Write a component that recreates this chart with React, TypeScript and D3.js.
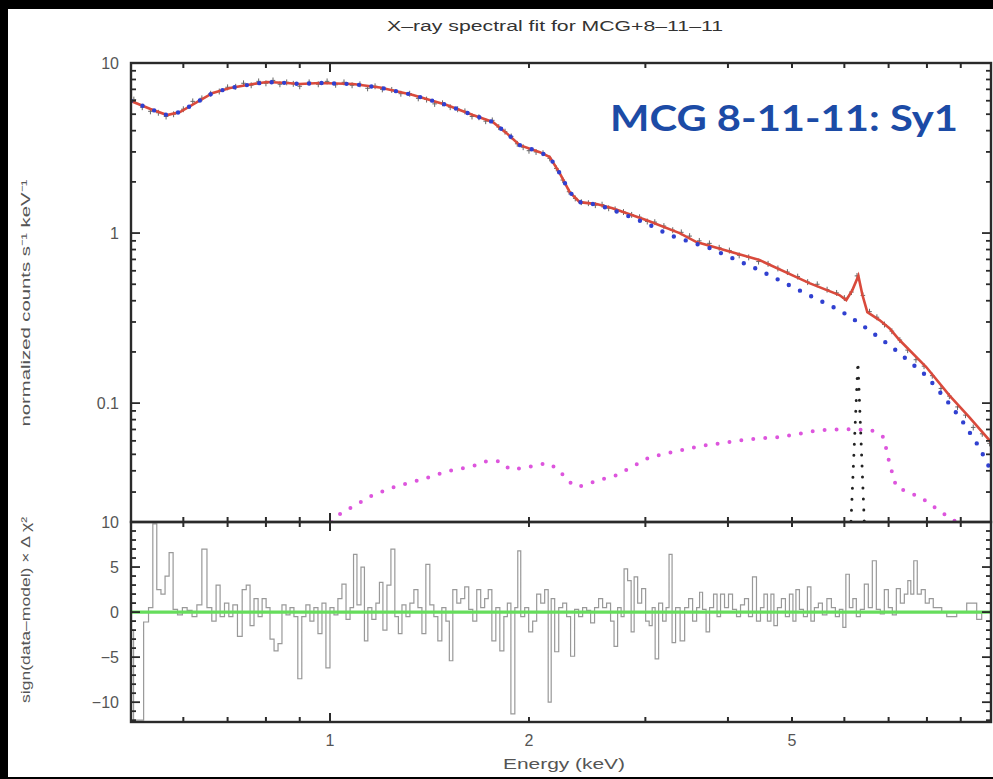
import React from 'react';
import * as d3 from 'd3';

const W = 993;
const H = 779;

const chartTitle = 'X–ray spectral fit for MCG+8–11–11';
const annotation = 'MCG 8-11-11: Sy1';
const xLabel = 'Energy (keV)';
const yLabelTop = 'normalized counts s⁻¹ keV⁻¹';
const yLabelBottom = 'sign(data–model) × Δ χ²';

const xTickLabels = [1, 2, 5];
const yTickLabelsTop = [0.1, 1, 10];
const yTickLabelsBottom = [-10, -5, 0, 5, 10];

// total model (red)
const modelE = [0.5, 0.535, 0.567, 0.593, 0.63, 0.665, 0.706, 0.765, 0.803, 0.861, 0.9, 0.966, 1.083, 1.19, 1.335, 1.502, 1.645, 1.763, 1.85, 1.937, 2.077, 2.15, 2.226, 2.305, 2.387, 2.531, 2.676, 3.014, 3.38, 3.585, 4.464, 5.312, 5.897, 6.04, 6.17, 6.3, 6.39, 6.5, 6.78, 7.02, 7.27, 7.98, 8.65, 9.27, 10.0];
const modelV = [5.98, 5.36, 4.94, 5.15, 5.9, 6.67, 7.13, 7.52, 7.73, 7.63, 7.52, 7.63, 7.52, 7.17, 6.49, 5.66, 4.94, 4.5, 3.87, 3.29, 2.99, 2.8, 2.25, 1.74, 1.52, 1.48, 1.4, 1.19, 1.0, 0.885, 0.694, 0.508, 0.432, 0.404, 0.462, 0.56, 0.432, 0.343, 0.308, 0.276, 0.235, 0.163, 0.111, 0.0828, 0.059];

// continuum (blue dotted)
const contE = [0.5, 0.535, 0.567, 0.593, 0.63, 0.665, 0.706, 0.765, 0.803, 0.861, 0.9, 0.966, 1.083, 1.19, 1.335, 1.502, 1.645, 1.763, 1.85, 1.937, 2.077, 2.15, 2.226, 2.305, 2.387, 2.531, 2.676, 3.014, 3.26, 3.75, 4.46, 5.19, 5.9, 6.32, 7.09, 7.6, 7.98, 8.55, 9.02, 9.6, 10.0];
const contV = [5.98, 5.36, 4.94, 5.15, 5.9, 6.67, 7.13, 7.52, 7.73, 7.63, 7.52, 7.63, 7.52, 7.17, 6.49, 5.66, 4.94, 4.5, 3.87, 3.29, 2.99, 2.8, 2.25, 1.74, 1.52, 1.47, 1.37, 1.14, 0.973, 0.817, 0.606, 0.45, 0.352, 0.296, 0.213, 0.17, 0.145, 0.105, 0.08, 0.055, 0.04];

// reflection component (magenta dotted)
const reflE = [0.98, 1.028, 1.072, 1.161, 1.262, 1.382, 1.507, 1.645, 1.727, 1.807, 1.871, 1.957, 2.134, 2.226, 2.28, 2.37, 2.585, 2.715, 3.045, 3.623, 4.312, 4.786, 5.5, 6.04, 6.6, 6.88, 7.02, 7.19, 7.86, 8.42, 8.87, 9.5, 10.0];
const reflV = [0.0175, 0.0219, 0.0241, 0.0288, 0.0325, 0.0357, 0.0398, 0.0426, 0.0456, 0.0456, 0.0409, 0.0415, 0.0444, 0.0403, 0.0352, 0.0321, 0.0357, 0.0377, 0.0481, 0.0558, 0.0614, 0.0631, 0.0693, 0.0703, 0.0693, 0.0631, 0.0444, 0.0321, 0.0276, 0.0228, 0.02, 0.0155, 0.013];

// narrow Fe K line (black dotted)
const lineE = [6.12, 6.29, 6.45];
const lineV = [0.015, 0.175, 0.015];

// data points (grey crosses)
const dataE = [0.505, 0.52, 0.535, 0.55, 0.565, 0.58, 0.6, 0.62, 0.64, 0.66, 0.68, 0.7, 0.72, 0.74, 0.76, 0.78, 0.8, 0.82, 0.84, 0.86, 0.88, 0.9, 0.93, 0.96, 0.99, 1.02, 1.05, 1.08, 1.11, 1.14, 1.17, 1.2, 1.24, 1.28, 1.32, 1.36, 1.4, 1.44, 1.48, 1.52, 1.56, 1.6, 1.64, 1.68, 1.72, 1.76, 1.8, 1.84, 1.88, 1.92, 1.96, 2.0, 2.05, 2.1, 2.15, 2.2, 2.25, 2.3, 2.35, 2.4, 2.46, 2.52, 2.58, 2.64, 2.7, 2.78, 2.86, 2.94, 3.02, 3.1, 3.2, 3.3, 3.4, 3.5, 3.62, 3.75, 3.88, 4.02, 4.16, 4.3, 4.45, 4.6, 4.76, 4.92, 5.1, 5.28, 5.46, 5.65, 5.84, 6.0, 6.15, 6.27, 6.4, 6.55, 6.72, 6.9, 7.08, 7.28, 7.48, 7.7, 7.92, 8.15, 8.4, 8.65, 8.9, 9.15, 9.4, 9.7, 9.95];
const dataV = [6.1, 5.5, 5.2, 5.1, 4.85, 5.0, 5.35, 5.95, 6.2, 6.6, 6.8, 7.2, 7.25, 7.6, 7.4, 7.8, 7.6, 7.9, 7.5, 7.7, 7.55, 7.3, 7.7, 7.5, 7.8, 7.45, 7.7, 7.4, 7.5, 7.1, 7.3, 7.0, 6.95, 6.6, 6.6, 6.2, 6.1, 5.75, 5.8, 5.5, 5.35, 5.2, 4.85, 4.8, 4.55, 4.6, 4.2, 3.95, 3.7, 3.35, 3.2, 3.05, 3.0, 2.95, 2.75, 2.4, 2.05, 1.75, 1.6, 1.52, 1.5, 1.46, 1.47, 1.4, 1.38, 1.33, 1.28, 1.24, 1.17, 1.16, 1.1, 1.04, 1.01, 0.96, 0.9, 0.87, 0.82, 0.79, 0.74, 0.72, 0.68, 0.66, 0.62, 0.59, 0.555, 0.515, 0.5, 0.465, 0.445, 0.415, 0.45, 0.56, 0.43, 0.345, 0.32, 0.29, 0.265, 0.235, 0.205, 0.18, 0.165, 0.145, 0.122, 0.11, 0.095, 0.085, 0.072, 0.066, 0.058];

// residuals sign(data-model)*dchi^2
const residE = [0.5, 0.509, 0.518, 0.527, 0.536, 0.543, 0.551, 0.559, 0.567, 0.575, 0.583, 0.593, 0.603, 0.613, 0.624, 0.634, 0.646, 0.657, 0.668, 0.677, 0.687, 0.698, 0.708, 0.718, 0.731, 0.742, 0.752, 0.762, 0.773, 0.784, 0.795, 0.806, 0.817, 0.829, 0.84, 0.852, 0.864, 0.876, 0.888, 0.9, 0.913, 0.926, 0.939, 0.952, 0.966, 0.979, 0.993, 1.007, 1.021, 1.035, 1.05, 1.065, 1.08, 1.091, 1.106, 1.122, 1.133, 1.149, 1.165, 1.182, 1.194, 1.211, 1.228, 1.245, 1.262, 1.276, 1.294, 1.312, 1.33, 1.349, 1.368, 1.387, 1.406, 1.426, 1.446, 1.466, 1.487, 1.508, 1.523, 1.545, 1.566, 1.588, 1.61, 1.633, 1.656, 1.679, 1.702, 1.726, 1.745, 1.77, 1.794, 1.82, 1.845, 1.865, 1.891, 1.917, 1.93, 1.957, 1.984, 2.012, 2.04, 2.069, 2.098, 2.127, 2.15, 2.172, 2.203, 2.234, 2.265, 2.296, 2.328, 2.361, 2.394, 2.428, 2.462, 2.496, 2.531, 2.567, 2.603, 2.639, 2.676, 2.704, 2.743, 2.771, 2.8, 2.84, 2.87, 2.9, 2.941, 2.982, 3.024, 3.056, 3.088, 3.12, 3.164, 3.208, 3.241, 3.275, 3.31, 3.356, 3.416, 3.464, 3.512, 3.562, 3.611, 3.636, 3.687, 3.726, 3.778, 3.831, 3.871, 3.925, 3.98, 4.036, 4.093, 4.15, 4.208, 4.267, 4.327, 4.387, 4.449, 4.511, 4.558, 4.622, 4.67, 4.719, 4.786, 4.852, 4.921, 4.99, 5.042, 5.095, 5.167, 5.239, 5.312, 5.368, 5.443, 5.519, 5.597, 5.695, 5.775, 5.856, 5.938, 6.0, 6.063, 6.148, 6.213, 6.299, 6.388, 6.477, 6.568, 6.66, 6.754, 6.848, 6.945, 7.042, 7.141, 7.241, 7.343, 7.446, 7.523, 7.602, 7.681, 7.789, 7.898, 8.009, 8.121, 8.235, 8.35, 8.497, 8.646, 8.798, 8.952, 9.109, 9.269, 9.432, 9.597, 9.766, 9.937];
const residV = [-2, -12, -12, -1.1, 0.5, 9.8, 2.5, 2.0, 4, 6.6, 0.3, -0.3, 0.5, 0.2, -0.5, 0.8, 7.0, 0.5, -1.0, 3.0, -0.5, 1.0, -0.5, 0.8, -2.7, 2.5, 3.0, -1.5, 1.5, -0.5, 1.5, 0.5, -3.0, -4.3, -3.5, 0.8, -0.3, 0.5, -0.5, -7.4, -0.5, 0.8, -1.0, 0.5, -2.4, 1.0, -6.2, 0.5, -0.3, 1.5, 3.1, -0.8, 0.5, 6.4, 0.8, 5.0, -3.2, 0.5, -0.8, 1.0, 3.3, -2.0, 3.0, 7.0, -0.5, -2.4, 0.8, -0.5, 1.0, 2.5, 0.5, -2.4, 5.3, 0.8, -0.5, -3.2, 0.5, -1.0, -5.4, 2.5, 1.0, 1.5, 2.8, 0.3, -1.0, 2.5, 0.5, 1.5, 2.5, -3.2, 0.5, -4.3, -0.5, 1.0, -11.3, 0.5, 6.8, -0.5, 0.5, -2.2, -1.0, 2.0, 1.0, 2.5, -10.0, 1.5, -4.4, 0.5, 1.0, -0.5, -4.9, 0.3, -0.5, 0.5, 0.2, -1.2, 0.5, 1.5, 0.5, 1.0, -1.0, -3.8, 0.5, -0.5, 4.8, 3.5, -2.2, 3.9, 1.0, 2.6, -1.0, -1.5, 0.5, -5.2, 1.0, -1.0, 0.5, 6.4, -3.4, 0.5, -3.2, 0.5, 1.5, -1.0, 0.5, 2.2, 0.3, -2.2, 0.5, 2.0, -0.5, 2.0, 0.5, 2.0, 0.3, -0.5, 0.8, 1.5, -0.5, 3.9, -1.0, 0.5, 2.0, -1.0, 2.0, -1.5, 0.5, 1.5, -0.5, 2.0, -1.0, 2.5, 0.3, -0.5, 2.8, -1.0, 0.5, 1.0, -0.3, 1.5, 0.5, -0.5, 0.3, -1.7, 4.2, 0.5, 1.5, -0.5, 0.3, 3.1, 0.5, 5.7, 0.3, -0.2, 2.5, 0.5, -0.3, 2.6, 1.0, 2.0, 3.5, 2.0, 5.7, 2.0, 2.5, 1.0, 1.5, 0.5, 0.5, 0.0, -0.5, -0.5, 0.0, 0.0, 1.0, 1.0, -0.8, 0.0, 0.0];

const PL = 131, PR = 991, PT = 63, PM = 522, PB = 722;

export default function App() {
  const x = d3.scaleLog().domain([0.5, 10]).range([PL, PR]);
  const yTop = d3.scaleLog().domain([0.02, 10]).range([PM, PT]);
  const yBot = d3.scaleLinear().domain([-12.2, 10]).range([PB, PM]);

  const toPts = (E: number[], V: number[]) => E.map((e, i) => [e, V[i]] as [number, number]);
  const lineTop = d3.line<[number, number]>().x(d => x(d[0])).y(d => yTop(d[1]));
  const lineRes = d3.line<[number, number]>().x(d => x(d[0])).y(d => yBot(d[1])).curve(d3.curveStep);

  const xTicks = x.ticks();
  const yTicksTop = yTop.ticks();
  const yTicksBot = d3.range(-12, 11);
  const isDecade = (v: number) => Math.abs(Math.log10(v) - Math.round(Math.log10(v))) < 1e-6;

  const axisColor = '#2a2a2a';
  const labelColor = '#555';
  const font = 'Liberation Sans, Arial, sans-serif';

  const fmt = (v: number) => (v < 0 ? '−' + Math.abs(v) : String(v));

  return (
    <svg width={W} height={H} style={{ position: 'absolute', left: 0, top: 0, background: '#000' }}>
      <defs>
        <clipPath id="clipTop"><rect x={PL} y={PT} width={PR - PL} height={PM - PT} /></clipPath>
        <clipPath id="clipBot"><rect x={PL} y={PM} width={PR - PL} height={PB - PM} /></clipPath>
      </defs>
      <rect x={0} y={0} width={W} height={H} fill="#000" />
      <rect x={8} y={9} width={W - 8} height={768} fill="#fff" />

      <text x={387} y={31} fontFamily={font} fontSize={14} fill="#333" textLength={336} lengthAdjust="spacingAndGlyphs">{chartTitle}</text>

      {/* top panel content */}
      <g clipPath="url(#clipTop)">
        {toPts(dataE, dataV).map((d, i) => (
          <g key={'d' + i} stroke="#666" strokeWidth={1}>
            <line x1={x(d[0] * 0.992)} x2={x(d[0] * 1.008)} y1={yTop(d[1])} y2={yTop(d[1])} />
            <line x1={x(d[0])} x2={x(d[0])} y1={yTop(d[1] * 0.96)} y2={yTop(d[1] * 1.04)} />
          </g>
        ))}
        <path d={lineTop(toPts(modelE, modelV)) || ''} fill="none" stroke="#d94a3c" strokeWidth={2.6} />
        <path d={lineTop(toPts(contE, contV)) || ''} fill="none" stroke="#3040d0" strokeWidth={4.4} strokeLinecap="round" strokeDasharray="0 12.5" />
        <path d={lineTop(toPts(reflE, reflV)) || ''} fill="none" stroke="#dd55dd" strokeWidth={4} strokeLinecap="round" strokeDasharray="0 12" />
        <path d={lineTop(toPts(lineE, lineV)) || ''} fill="none" stroke="#222" strokeWidth={3} strokeLinecap="round" strokeDasharray="0 11" />
      </g>

      {/* bottom panel content */}
      <g clipPath="url(#clipBot)">
        <path d={lineRes(toPts(residE, residV)) || ''} fill="none" stroke="#999" strokeWidth={1.2} />
        <line x1={PL} x2={PR} y1={yBot(0)} y2={yBot(0)} stroke="#66dd5c" strokeWidth={3.4} />
      </g>

      {/* frames */}
      <rect x={PL} y={PT} width={PR - PL} height={PM - PT} fill="none" stroke={axisColor} strokeWidth={2.4} />
      <rect x={PL} y={PM} width={PR - PL} height={PB - PM} fill="none" stroke={axisColor} strokeWidth={2.4} />

      {/* x ticks */}
      {xTicks.map((t, i) => {
        const len = isDecade(t) ? 9 : 5;
        const px = x(t);
        return (
          <g key={'xt' + i} stroke={axisColor} strokeWidth={2}>
            <line x1={px} x2={px} y1={PT} y2={PT + len} />
            <line x1={px} x2={px} y1={PM} y2={PM - len} />
            <line x1={px} x2={px} y1={PM} y2={PM + len} />
            <line x1={px} x2={px} y1={PB} y2={PB - len} />
          </g>
        );
      })}
      {/* y ticks top */}
      {yTicksTop.map((t, i) => {
        const len = isDecade(t) ? 9 : 5;
        const py = yTop(t);
        return (
          <g key={'yt' + i} stroke={axisColor} strokeWidth={1.8}>
            <line x1={PL} x2={PL + len} y1={py} y2={py} />
            <line x1={PR} x2={PR - len} y1={py} y2={py} />
          </g>
        );
      })}
      {/* y ticks bottom */}
      {yTicksBot.map((t, i) => {
        const len = t % 5 === 0 ? 9 : 5;
        const py = yBot(t);
        return (
          <g key={'yb' + i} stroke={axisColor} strokeWidth={1.8}>
            <line x1={PL} x2={PL + len} y1={py} y2={py} />
            <line x1={PR} x2={PR - len} y1={py} y2={py} />
          </g>
        );
      })}

      {/* tick labels */}
      {yTickLabelsTop.map((t, i) => (
        <text key={'ylt' + i} x={119} y={yTop(t)} dy="0.35em" textAnchor="end" fontFamily={font} fontSize={16} fill={labelColor}>{String(t)}</text>
      ))}
      {yTickLabelsBottom.map((t, i) => (
        <text key={'ylb' + i} x={119} y={yBot(t)} dy="0.35em" textAnchor="end" fontFamily={font} fontSize={16} fill={labelColor}>{fmt(t)}</text>
      ))}
      {xTickLabels.map((t, i) => (
        <text key={'xl' + i} x={x(t)} y={746} textAnchor="middle" fontFamily={font} fontSize={16} fill={labelColor}>{String(t)}</text>
      ))}

      <text x={564} y={769} textAnchor="middle" fontFamily={font} fontSize={15} fill={labelColor} textLength={122} lengthAdjust="spacingAndGlyphs">{xLabel}</text>
      <text transform="translate(30,303) rotate(-90)" textAnchor="middle" fontFamily={font} fontSize={13} fill={labelColor} textLength={247} lengthAdjust="spacingAndGlyphs">{yLabelTop}</text>
      <text transform="translate(30,610) rotate(-90)" textAnchor="middle" fontFamily={font} fontSize={13} fill={labelColor} textLength={186} lengthAdjust="spacingAndGlyphs">{yLabelBottom}</text>

      <text x={610} y={131} fontFamily="Lato, 'Open Sans', sans-serif" fontWeight={700} fontSize={36} fill="#1c4ba6" textLength={348} lengthAdjust="spacingAndGlyphs">{annotation}</text>
    </svg>
  );
}
